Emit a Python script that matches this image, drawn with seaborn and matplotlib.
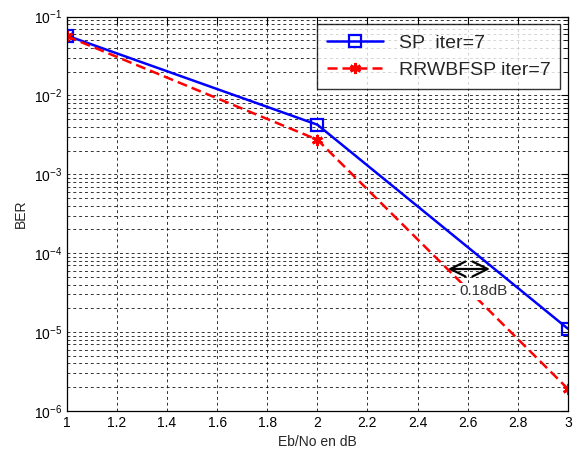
import pandas as pd
import numpy as np
import matplotlib
matplotlib.use("Agg")
import matplotlib.pyplot as plt
import seaborn as sns

# values
ebno = [1, 2, 3]
ber_sp = [0.0575, 0.00426, 1.1e-5]
ber_rr = [0.0565, 0.00275, 1.9e-6]
labels = ["SP  iter=7", "RRWBFSP iter=7"]

df_sp = pd.DataFrame({"EbNo": ebno, "BER": ber_sp})
df_rr = pd.DataFrame({"EbNo": ebno, "BER": ber_rr})

sns.set_style("white")
plt.rcParams["font.family"] = ["Liberation Sans", "DejaVu Sans"]

fig = plt.figure(figsize=(5.76, 4.5), dpi=100)
ax = fig.add_axes([0.116, 0.087, 0.870, 0.876])

sns.lineplot(data=df_sp, x="EbNo", y="BER", ax=ax, color="blue", linewidth=1.8,
             marker="s", markersize=8, markerfacecolor="none",
             markeredgecolor="blue", markeredgewidth=1.6, label=labels[0])
sns.lineplot(data=df_rr, x="EbNo", y="BER", ax=ax, color="red", linewidth=1.8,
             linestyle=(0, (4, 2)), marker=(6, 2, 0), markersize=8,
             markeredgecolor="red", markeredgewidth=2, label=labels[1])

ax.set_yscale("log")
ax.set_xlim(1, 3)
ax.set_ylim(1e-6, 1e-1)
ax.set_xticks(np.arange(1, 3.01, 0.2))
ax.set_xticklabels(["1", "1.2", "1.4", "1.6", "1.8", "2", "2.2", "2.4", "2.6", "2.8", "3"])
ax.tick_params(axis="both", which="both", direction="in", labelsize=10, colors="black")
ax.tick_params(axis="both", which="major", length=5)
ax.tick_params(axis="both", which="minor", length=3)
ax.tick_params(top=True, right=True, which="both")
ax.grid(True, which="both", linestyle=(0, (3, 3)), color="black", linewidth=0.7, alpha=0.8)
for s in ax.spines.values():
    s.set_color("black")
    s.set_linewidth(0.9)

ax.set_xlabel("Eb/No en dB", fontsize=10)
ax.set_ylabel("BER", fontsize=10)

# 0.18 dB gap annotation
ax.annotate("", xy=(2.51, 6.3e-5), xytext=(2.70, 6.3e-5),
            arrowprops=dict(arrowstyle="<->,head_length=0.6,head_width=0.3",
                            color="black", lw=1.6, mutation_scale=18))
ax.text(2.665, 3.3e-5, "0.18dB", ha="center", va="center", fontsize=11, color="#333333",
        bbox=dict(facecolor="white", edgecolor="none", pad=1))

leg = ax.legend(loc="upper right", fontsize=14, frameon=True, fancybox=False,
                borderaxespad=0.4, handlelength=2.9, labelspacing=0.5,
                borderpad=0.5)
leg.get_frame().set_edgecolor("black")
leg.get_frame().set_linewidth(1.0)

fig.savefig("out.png", dpi=100)
